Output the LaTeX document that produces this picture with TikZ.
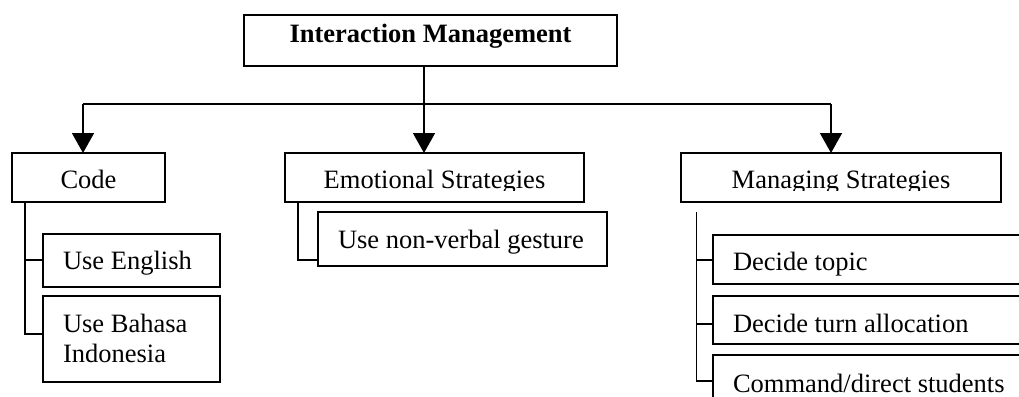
\documentclass[tikz,border=0pt]{standalone}
\usepackage{fontspec}
\setmainfont{Liberation Serif}
\usetikzlibrary{arrows.meta}
\begin{document}
\begin{tikzpicture}[x=1pt,y=-1pt,
  font=\fontsize{26.5}{30}\selectfont,
  box/.style={draw,line width=1.6pt,inner sep=0pt,outer sep=0pt,anchor=north west},
  txt/.style={inner sep=0pt,outer sep=0pt},
  tree/.style={line width=1.6pt},
  thintree/.style={line width=1pt},
  arr/.style={line width=1.6pt,-{Triangle[length=20pt,width=22pt]}}
]
\clip (0,0) rectangle (1019,396);
\fill[white] (0,0) rectangle (1019,396);

% top box
\node[box,minimum width=373pt,minimum height=51pt] (top) at (244,15) {};
\node[txt,anchor=base,font=\fontsize{26.5}{30}\selectfont\bfseries] (toptxt) at (430.5,42.5) {Interaction Management};

% second level boxes
\node[box,minimum width=153pt,minimum height=49pt] (code) at (12,153) {};
\node[box,minimum width=299pt,minimum height=49pt] (emo) at (285,153) {};
\node[box,minimum width=320pt,minimum height=49pt] (man) at (681,153) {};
\node[txt,anchor=base] (codetxt) at (88.5,188) {Code};
\begin{scope}
  \clip (280,150) rectangle (1010,190.5);
  \node[txt,anchor=base] (emotxt) at (434.5,188) {Emotional Strategies};
  \node[txt,anchor=base] (mantxt) at (841,188) {Managing Strategies};
\end{scope}

% connectors from top
\coordinate (stemtop) at (424,66);
\coordinate (split) at (424,104);
\draw[tree] (stemtop) -- (split);
\draw[tree] (83,104) coordinate (hl) -- (831,104) coordinate (hr);
\draw[arr] (hl) -- (hl |- code.north);
\draw[arr] (split) -- (split |- emo.north);
\draw[arr] (hr) -- (hr |- man.north);

% Code children
\node[box,minimum width=177pt,minimum height=53pt] (eng) at (43,234) {};
\node[box,minimum width=177pt,minimum height=86pt] (bah) at (43,296) {};
\node[txt,anchor=base west] (engtxt) at (63,269) {Use English};
\node[txt,anchor=base west] (bahtxt1) at (63,332) {Use Bahasa};
\node[txt,anchor=base west] (bahtxt2) at (63,362) {Indonesia};
\coordinate (ctop) at (25,202);
\coordinate (c1) at (25,260);
\coordinate (c2) at (25,334);
\draw[tree] (ctop) -- (c2) -- (c2 -| bah.west);
\draw[tree] (c1) -- (c1 -| eng.west);

% Emotional children
\node[box,minimum width=289pt,minimum height=54pt] (nv) at (318,212) {};
\node[txt,anchor=base west] (nvtxt) at (338,248) {Use non-verbal gesture};
\coordinate (etop) at (298,202);
\coordinate (e1) at (298,260);
\draw[tree] (etop) -- (e1) -- (e1 -| nv.west);

% Managing children
\node[box,minimum width=320pt,minimum height=49pt] (topic) at (713,235) {};
\node[box,minimum width=320pt,minimum height=48pt] (turn) at (713,296) {};
\node[box,minimum width=320pt,minimum height=60pt] (cmd) at (713,355) {};
\node[txt,anchor=base west] (topictxt) at (733,270) {Decide topic};
\node[txt,anchor=base west] (turntxt) at (733,332) {Decide turn allocation};
\node[txt,anchor=base west] (cmdtxt) at (733,392) {Command/direct students};
\coordinate (mtop) at (696,212);
\coordinate (m1) at (696,260);
\coordinate (m2) at (696,324);
\coordinate (m3) at (696,381);
\draw[thintree] (mtop) -- (m3);
\draw[tree] (m1) -- (m1 -| topic.west);
\draw[tree] (m2) -- (m2 -| turn.west);
\draw[tree] (m3) -- (m3 -| cmd.west);
\end{tikzpicture}
\end{document}
